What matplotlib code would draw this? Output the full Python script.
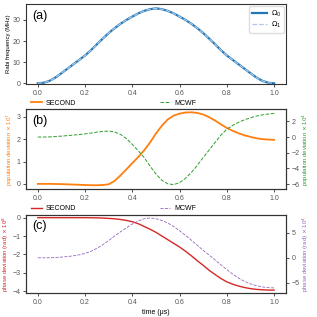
import numpy as np
from matplotlib import pyplot as plt

# time grid (us)
t = [0.0, 0.025, 0.05, 0.075, 0.1, 0.125, 0.15, 0.175, 0.2, 0.225, 0.25,
     0.275, 0.3, 0.325, 0.35, 0.375, 0.4, 0.425, 0.45, 0.475, 0.5,
     0.525, 0.55, 0.575, 0.6, 0.625, 0.65, 0.675, 0.7, 0.725, 0.75,
     0.775, 0.8, 0.825, 0.85, 0.875, 0.9, 0.925, 0.95, 0.975, 1.0]

# (a) Rabi frequency (MHz)
omega0 = [0.0, 0.3, 1.2, 2.8, 4.8, 6.9, 9.0, 11.1, 13.2, 15.7, 18.5,
          21.2, 23.8, 26.1, 28.2, 30.0, 31.6, 33.1, 34.3, 35.1, 35.5,
          35.1, 34.3, 33.1, 31.6, 30.0, 28.2, 26.1, 23.8, 21.2, 18.5,
          15.7, 13.2, 11.1, 9.0, 6.9, 4.8, 2.8, 1.2, 0.3, 0.0]
omega1 = [0.0, 0.3, 1.2, 2.8, 4.8, 6.9, 9.0, 11.1, 13.2, 15.7, 18.5,
          21.2, 23.8, 26.1, 28.2, 30.0, 31.6, 33.1, 34.3, 35.1, 35.5,
          35.1, 34.3, 33.1, 31.6, 30.0, 28.2, 26.1, 23.8, 21.2, 18.5,
          15.7, 13.2, 11.1, 9.0, 6.9, 4.8, 2.8, 1.2, 0.3, 0.0]

# (b) population deviation
pop_second = [0.0, 0.0, 0.0, -0.005, -0.01, -0.02, -0.03, -0.04, -0.05, -0.06, -0.06,
              -0.05, -0.02, 0.13, 0.38, 0.65, 0.93, 1.2, 1.5, 1.85, 2.25,
              2.6, 2.88, 3.05, 3.14, 3.19, 3.2, 3.17, 3.1, 2.98, 2.83,
              2.66, 2.5, 2.37, 2.26, 2.17, 2.1, 2.04, 2.0, 1.98, 1.97]   # x 1e7
pop_mcwf = [0.0, 0.0, 0.02, 0.06, 0.12, 0.18, 0.25, 0.32, 0.4, 0.5, 0.62,
            0.72, 0.76, 0.65, 0.34, -0.2, -0.93, -1.75, -2.6, -3.7, -4.7,
            -5.5, -5.95, -6.05, -5.8, -5.25, -4.5, -3.6, -2.6, -1.65, -0.7,
            0.25, 1.0, 1.5, 1.88, 2.2, 2.45, 2.66, 2.82, 2.93, 3.0]  # x 1e4

# (c) phase deviation
ph_second = [0.0, 0.0, 0.0, 0.0, 0.0, 0.0, 0.0, 0.0, 0.0, -0.005, -0.01,
             -0.02, -0.04, -0.06, -0.1, -0.15, -0.22, -0.33, -0.48, -0.63, -0.8,
             -1.0, -1.2, -1.4, -1.6, -1.83, -2.08, -2.35, -2.6, -2.87, -3.1,
             -3.32, -3.5, -3.63, -3.73, -3.81, -3.87, -3.91, -3.93, -3.95, -3.95]  # x 1e8
ph_mcwf = [0.0, 0.0, 0.02, 0.07, 0.15, 0.25, 0.4, 0.6, 0.88, 1.3, 1.9,
           2.6, 3.45, 4.35, 5.2, 6.0, 6.75, 7.35, 7.8, 7.95, 7.8,
           7.45, 6.95, 6.25, 5.4, 4.5, 3.5, 2.5, 1.5, 0.55, -0.4,
           -1.4, -2.35, -3.25, -4.05, -4.7, -5.2, -5.55, -5.8, -5.95, -6.0]  # x 1e4

plt.rcParams.update({
    'font.family': ['Liberation Sans', 'DejaVu Sans'],
    'font.size': 5,
    'axes.edgecolor': '#333333',
    'axes.linewidth': 0.8,
    'xtick.color': '#333333',
    'ytick.color': '#333333',
    'xtick.labelcolor': '#555555',
    'ytick.labelcolor': '#555555',
    'xtick.major.size': 2.5,
    'ytick.major.size': 2.5,
    'xtick.major.width': 0.6,
    'ytick.major.width': 0.6,
    'xtick.major.pad': 2,
    'ytick.major.pad': 1.5,
    'mathtext.fontset': 'dejavusans',
})

fig = plt.figure(figsize=(3.17, 3.17), dpi=100)
L, W = 0.082, 0.82
ax1 = fig.add_axes([L, 0.735, W, 0.252])
ax2 = fig.add_axes([L, 0.403, W, 0.252])
ax3 = fig.add_axes([L, 0.075, W, 0.247])

xt = [0.0, 0.2, 0.4, 0.6, 0.8, 1.0]
ylab_fs = 4.3

# (a)
ax1.plot(t, omega0, color='#1f77b4', lw=1.6, label=r'$\Omega_0$')
ax1.plot(t, omega1, color='#aec7e8', lw=0.9, ls='--', label=r'$\Omega_1$')
ax1.set_ylim(-0.3, 37.5)
ax1.set_yticks([0, 10, 20, 30])
ax1.set_ylabel('Rabi frequency (MHz)', fontsize=ylab_fs, labelpad=1)
ax1.legend(loc='upper right', fontsize=5, handlelength=2.2, framealpha=1,
           edgecolor='#dddddd', borderpad=0.35, labelspacing=0.15,
           borderaxespad=0.3, handletextpad=0.6)
ax1.text(0.025, 0.93, '(a)', transform=ax1.transAxes, fontsize=9, va='top')


def top_legend(ax, axb):
    h = ax.get_legend_handles_labels()[0] + axb.get_legend_handles_labels()[0]
    ax.legend(h, [x.get_label() for x in h], loc='lower left',
              bbox_to_anchor=(0.01, 1.0), ncol=2, frameon=False,
              fontsize=5, borderaxespad=0, handlelength=1.5,
              handletextpad=0.6, columnspacing=12.0)


# (b)
ax2.plot(t, pop_second, color='#ff7f0e', lw=1.3, label='SECOND')
ax2.set_ylim(-0.24, 3.33)
ax2.set_yticks([0, 1, 2, 3])
ax2.set_ylabel(r'population deviation $\times$ 10$^7$', color='#ff7f0e',
               fontsize=ylab_fs, labelpad=1)
ax2b = ax2.twinx()
ax2b.plot(t, pop_mcwf, color='#2ca02c', lw=0.7, ls='--', label='MCWF')
ax2b.set_ylim(-6.64, 3.52)
ax2b.set_yticks([-6, -4, -2, 0, 2])
ax2b.set_ylabel(r'population deviation $\times$ 10$^4$', color='#2ca02c',
                fontsize=ylab_fs, labelpad=1)
top_legend(ax2, ax2b)
ax2.text(0.025, 0.93, '(b)', transform=ax2.transAxes, fontsize=9, va='top')

# (c)
ax3.plot(t, ph_second, color='#d62728', lw=1.0, label='SECOND')
ax3.set_ylim(-4.12, 0.15)
ax3.set_yticks([-4, -3, -2, -1, 0])
ax3.set_ylabel(r'phase deviation (rad) $\times$ 10$^8$', color='#d62728',
               fontsize=ylab_fs, labelpad=1)
ax3b = ax3.twinx()
ax3b.plot(t, ph_mcwf, color='#9467bd', lw=0.6, ls='--', label='MCWF')
ax3b.set_ylim(-7.06, 8.56)
ax3b.set_yticks([-5, 0, 5])
ax3b.set_ylabel(r'phase deviation (rad) $\times$ 10$^4$', color='#9467bd',
                fontsize=ylab_fs, labelpad=1)
top_legend(ax3, ax3b)
ax3.text(0.025, 0.93, '(c)', transform=ax3.transAxes, fontsize=9, va='top')
ax3.set_xlabel('time (μs)', fontsize=5, labelpad=2)

for ax in (ax1, ax2, ax3):
    ax.set_xlim(-0.05, 1.05)
    ax.set_xticks(xt)

fig.savefig('out.png', dpi=100)
